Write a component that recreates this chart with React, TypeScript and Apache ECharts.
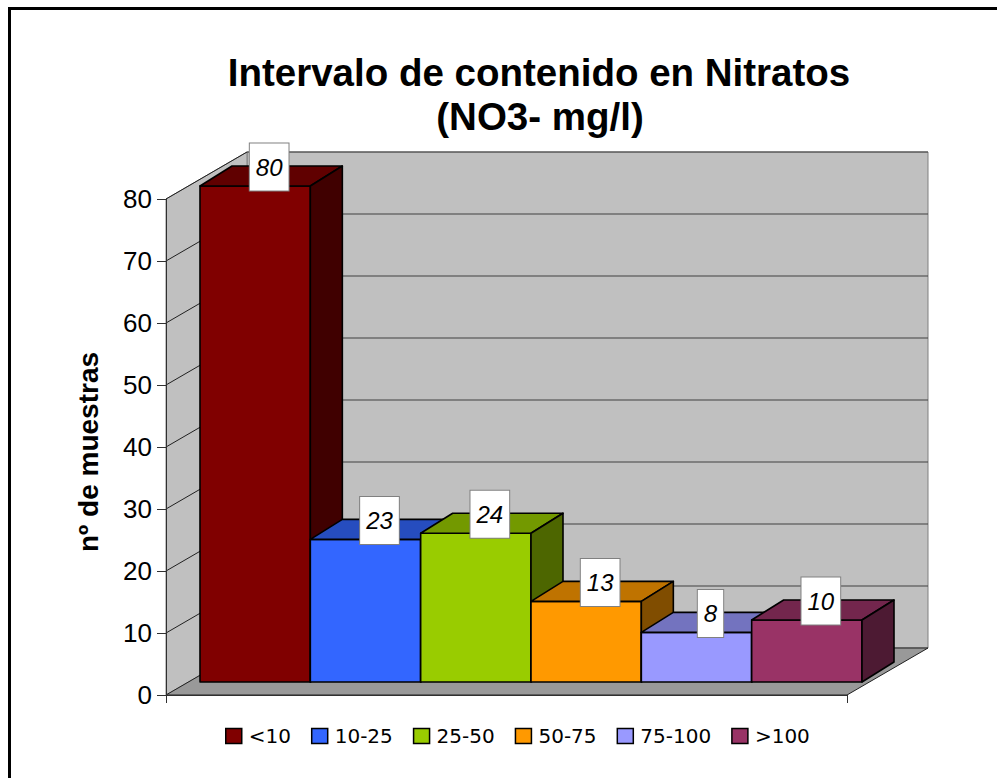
import React, { useEffect, useRef } from 'react';
import * as echarts from 'echarts';

const categories = ['<10', '10-25', '25-50', '50-75', '75-100', '>100'];
const counts = [80, 23, 24, 13, 8, 10];
const yTicks = [0, 10, 20, 30, 40, 50, 60, 70, 80];
const frontColors = ['#800000', '#3366ff', '#99cc00', '#ff9900', '#9999ff', '#993366'];
const titleLines = ['Intervalo de contenido en Nitratos', '(NO3- mg/l)'];
const yAxisName = 'nº de muestras';

const WALL_DX = 81;
const WALL_DY = -47;
const BAR_DX = 32;
const BAR_DY = -20;
const SANS = '"Liberation Sans", Arial, sans-serif';

function shade(hex: string, f: number): string {
  const n = parseInt(hex.slice(1), 16);
  const r = Math.round(((n >> 16) & 255) * f);
  const g = Math.round(((n >> 8) & 255) * f);
  const b = Math.round((n & 255) * f);
  return 'rgb(' + r + ',' + g + ',' + b + ')';
}

export default function App() {
  const ref = useRef<HTMLDivElement>(null);

  useEffect(() => {
    if (!ref.current) return;
    const chart = echarts.init(ref.current, undefined, { renderer: 'svg' });
    const yMax = yTicks[yTicks.length - 1];

    const wallSeries: any = {
      type: 'custom',
      name: '__walls',
      xAxisIndex: 0,
      yAxisIndex: 0,
      z: 1,
      clip: false,
      silent: true,
      data: [[0, 0]],
      renderItem: (params: any, api: any) => {
        const p0 = api.coord([0, 0]);
        const p1 = api.coord([1, yMax]);
        const x0 = p0[0], yb = p0[1], x1 = p1[0], yt = p1[1];
        const children: any[] = [];
        children.push({
          type: 'rect',
          shape: { x: x0 + WALL_DX, y: yt + WALL_DY, width: x1 - x0, height: yb - yt },
          style: { fill: '#c0c0c0', stroke: '#808080', lineWidth: 1 },
        });
        children.push({
          type: 'polygon',
          shape: { points: [[x0, yb], [x0 + WALL_DX, yb + WALL_DY], [x0 + WALL_DX, yt + WALL_DY], [x0, yt]] },
          style: { fill: '#c0c0c0', stroke: '#808080', lineWidth: 1 },
        });
        yTicks.forEach((v) => {
          if (v === 0) return;
          const y = api.coord([0, v])[1];
          children.push({
            type: 'line',
            shape: { x1: x0 + WALL_DX, y1: y + WALL_DY, x2: x1 + WALL_DX, y2: y + WALL_DY },
            style: { stroke: '#404040', lineWidth: 1 },
          });
          children.push({
            type: 'line',
            shape: { x1: x0, y1: y, x2: x0 + WALL_DX, y2: y + WALL_DY },
            style: { stroke: '#202020', lineWidth: 1 },
          });
        });
        children.push({
          type: 'polygon',
          shape: { points: [[x0, yb], [x1, yb], [x1 + WALL_DX, yb + WALL_DY], [x0 + WALL_DX, yb + WALL_DY]] },
          style: { fill: '#999999', stroke: '#202020', lineWidth: 1 },
        });
        return { type: 'group', children };
      },
    };

    const barSeries: any[] = categories.map((name, idx) => ({
      type: 'custom',
      name,
      xAxisIndex: 1,
      yAxisIndex: 1,
      z: 3,
      clip: false,
      itemStyle: { color: frontColors[idx] },
      data: [[idx, counts[idx]]],
      renderItem: (params: any, api: any) => {
        const i = api.value(0);
        const v = api.value(1);
        const top = api.coord([i, v]);
        const bot = api.coord([i, 0]);
        const bw = api.size([1, 0])[0];
        const cx = top[0];
        const yTop = top[1];
        const yBot = bot[1];
        const xl = cx - bw / 2;
        const xr = cx + bw / 2;
        const base = frontColors[idx];
        const edge = { stroke: '#000', lineWidth: 1.6, lineJoin: 'round' };
        return {
          type: 'group',
          children: [
            {
              type: 'rect',
              shape: { x: xl, y: yTop, width: xr - xl, height: yBot - yTop },
              style: { fill: base, ...edge },
            },
            {
              type: 'polygon',
              shape: { points: [[xl, yTop], [xl + BAR_DX, yTop + BAR_DY], [xr + BAR_DX, yTop + BAR_DY], [xr, yTop]] },
              style: { fill: shade(base, 0.75), ...edge },
            },
            {
              type: 'polygon',
              shape: { points: [[xr, yTop], [xr + BAR_DX, yTop + BAR_DY], [xr + BAR_DX, yBot + BAR_DY], [xr, yBot]] },
              style: { fill: shade(base, 0.5), ...edge },
            },
            {
              type: 'text',
              x: cx + BAR_DX / 2 - 2,
              y: yTop + BAR_DY / 2 - 9,
              z2: 10,
              style: {
                text: String(v),
                fill: '#000',
                fontSize: 24,
                fontStyle: 'italic',
                fontFamily: SANS,
                align: 'center',
                verticalAlign: 'middle',
                lineHeight: 25,
                backgroundColor: '#ffffff',
                borderColor: '#808080',
                borderWidth: 1,
                padding: [11, 6, 11, 6],
              },
            },
          ],
        };
      },
    }));

    const option: any = {
      animation: false,
      backgroundColor: '#ffffff',
      grid: [
        { left: 166, top: 199, width: 681, height: 496 },
        { left: 200, top: 186, width: 662, height: 496 },
      ],
      xAxis: [
        {
          type: 'value',
          gridIndex: 0,
          min: 0,
          max: 1,
          interval: 1,
          z: 10,
          axisLine: { show: true, lineStyle: { color: '#303030', width: 1 } },
          axisTick: { show: true, length: 8, lineStyle: { color: '#303030' } },
          axisLabel: { show: false },
          splitLine: { show: false },
        },
        {
          type: 'category',
          gridIndex: 1,
          data: categories,
          show: false,
        },
      ],
      yAxis: [
        {
          type: 'value',
          gridIndex: 0,
          min: 0,
          max: yMax,
          interval: 10,
          z: 10,
          axisLine: { show: true, lineStyle: { color: '#303030', width: 1 } },
          axisTick: { show: true, length: 9, lineStyle: { color: '#303030' } },
          axisLabel: { show: true, fontSize: 26, fontFamily: SANS, color: '#000', margin: 14 },
          splitLine: { show: false },
        },
        {
          type: 'value',
          gridIndex: 1,
          min: 0,
          max: yMax,
          show: false,
          splitLine: { show: false },
        },
      ],
      legend: {
        data: categories,
        left: 225,
        top: 726,
        padding: 0,
        itemWidth: 16,
        itemHeight: 15,
        itemGap: 20,
        icon: 'rect',
        selectedMode: false,
        itemStyle: { borderColor: '#000', borderWidth: 1.5 },
        textStyle: { fontSize: 20, fontFamily: '"DejaVu Sans", Verdana, sans-serif', color: '#000', padding: [0, 0, 0, 2] },
      },
      graphic: [
        {
          type: 'rect',
          shape: { x: 9.5, y: 8.5, width: 1000, height: 800 },
          style: { fill: 'none', stroke: '#000', lineWidth: 3 },
          silent: true,
          z: -1,
        },
        {
          type: 'text',
          x: 539,
          y: 72,
          style: { text: titleLines[0], fontSize: 38.5, fontWeight: 'bold', fontFamily: SANS, fill: '#000', align: 'center', verticalAlign: 'middle' },
        },
        {
          type: 'text',
          x: 540,
          y: 116,
          style: { text: titleLines[1], fontSize: 38.5, fontWeight: 'bold', fontFamily: SANS, fill: '#000', align: 'center', verticalAlign: 'middle' },
        },
        {
          type: 'text',
          x: 88,
          y: 452,
          rotation: Math.PI / 2,
          style: { text: yAxisName, fontSize: 28, fontWeight: 'bold', fontFamily: SANS, fill: '#000', align: 'center', verticalAlign: 'middle' },
        },
      ],
      series: [wallSeries, ...barSeries],
    };

    chart.setOption(option);
    return () => chart.dispose();
  }, []);

  return <div ref={ref} style={{ position: 'absolute', left: 0, top: 0, width: 997, height: 778 }} />;
}
